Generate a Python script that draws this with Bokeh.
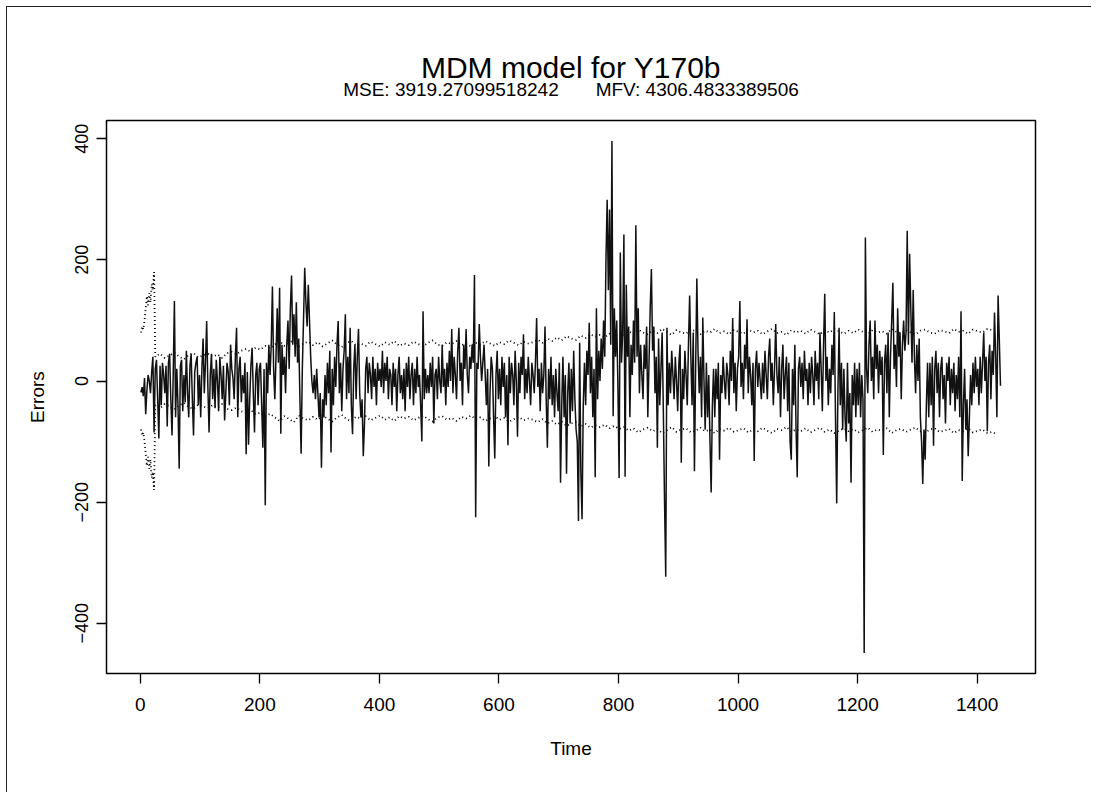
from bokeh.plotting import figure
from bokeh.models import Range1d, FixedTicker, Title
from bokeh.embed import file_html
from bokeh.resources import INLINE

# ---- data (every 2nd time step) ----
errors = [
    -19, -10, -25, 5, -55, -15, 10, 0, -20, 15, 40, -85, 20, 35, -30, -95, 25, -40, 30, 10,
    -20, 25, -75, 30, 45, -30, -90, 10, 132, -60, 20, -40, -145, 25, 35, -50, 10, -35, 50, -20,
    -60, 25, 45, -30, -90, 15, 30, 40, -40, 10, -60, 20, 70, -20, 30, 99, -10, -85, 10, 45,
    -30, 20, -45, 35, 0, -50, 40, 10, -30, 25, -65, -20, 30, 15, -40, 60, 20, 5, -30, 40,
    88, -60, 20, 40, -35, 10, -20, 30, -121, 15, -105, -30, 25, 55, -20, -85, 10, 30, -40, 20,
    30, -40, -110, 20, -205, 30, -20, 60, 10, 60, 156, 20, -30, 40, 120, 30, 154, -87, 60, 10,
    40, -20, 60, 100, 20, 120, 174, 60, 110, 40, 130, 30, 70, -30, -120, 20, 100, 187, 130, 90,
    159, 100, 40, 0, -20, 10, -30, 20, -20, -60, -20, -143, -30, -60, 10, -40, 30, -20, 50, -118,
    20, -40, 40, -10, 60, 99, -20, 30, -50, 20, 50, 110, -30, 40, -20, 88, -40, -88, 20, 60,
    -30, 40, 86, -20, -60, -30, -124, -70, 20, 40, -20, 30, 10, -30, 40, -10, 20, -40, 30, 0,
    20, -10, 50, -20, 30, 0, 40, -30, 20, 10, -40, 30, -10, 20, -50, 10, 40, -20, 10, -30,
    20, -50, 30, -10, 40, -30, 10, 30, -40, 20, -20, 40, -10, 10, -40, -100, 115, -30, 20, -20,
    10, -20, 30, -10, 40, -70, 10, 20, -30, 40, 0, -20, 60, -10, 20, -40, 30, -10, 50, 0,
    86, -20, 40, 10, -30, 50, 88, 0, 30, -40, 60, 20, 86, 10, -20, 40, 20, 60, 30, 175,
    -225, 30, 20, 94, 40, 0, 30, 60, 10, -40, 20, -141, -20, 40, 20, -60, -128, 10, 50, -30,
    20, -40, 40, -10, 30, -60, 10, -106, 40, -20, 30, 10, -40, 50, 0, -92, 30, -20, 40, 10,
    77, -30, 20, -20, 40, 0, -40, 30, 10, -20, 30, 104, -10, 20, -50, 30, -20, 10, 90, -30,
    -110, 20, -30, 40, -40, 10, -60, 20, -20, -50, 30, -168, -40, 40, -60, 10, -153, -20, 30, -70,
    20, -50, 50, -30, -80, -100, -231, 63, -150, -228, -40, 30, -40, 50, 10, 96, -20, 40, -60, 20,
    -159, 120, -30, 50, 0, 70, 20, 100, 40, 200, 299, 150, 283, 60, 396, -58, 120, 40, 100, -10,
    -160, 212, 30, 80, 242, -158, 159, 40, 90, -60, 60, 10, 100, 30, 257, 40, 120, -20, 60, 10,
    -30, 60, 20, 90, -60, 30, 120, 185, 50, 90, -20, 40, -110, 70, -40, 20, 80, -50, -200, -323,
    88, -40, 30, -20, 50, 10, -30, 40, 0, -50, 30, 60, -135, 20, -30, 50, 10, -40, 60, 141,
    40, -40, 80, -149, 20, 169, 50, -20, 40, -60, 105, 0, -80, 30, -60, 10, -100, -184, -40, 20,
    -60, 20, -30, 30, -130, 10, -20, 40, 0, -30, 30, 10, -40, 50, 0, 104, -20, 30, -50, 20,
    40, 132, -10, 30, -30, 60, 20, 102, -20, 40, 10, -40, 30, -132, 20, 50, -10, 30, 0, -30,
    30, -20, 50, 10, -30, 40, 70, 0, 30, -40, 20, 94, 10, -20, 40, -60, 20, 60, -30, 10,
    40, -50, 30, -100, -130, 20, -40, 60, -80, -159, 20, 40, -10, 30, -30, 50, 0, 20, -40, 30,
    -20, 40, 10, -40, 50, 0, 30, -30, 80, 20, -50, 60, 144, 0, 40, -40, 20, -20, 60, 10,
    114, -60, -202, -20, 88, -40, 30, -80, 20, -60, -100, 30, -70, -20, -168, 10, -40, 30, -60, 20,
    -40, 30, -60, 10, -30, -449, 237, 20, -20, 60, 100, 0, 40, -30, 100, 20, 60, -20, 50, 10,
    40, -122, 30, 60, -20, 80, -60, 40, 100, 162, 20, 60, -10, 120, 40, 80, -30, 60, 100, 50,
    80, 248, 60, 210, 120, 30, 150, 40, -20, 60, 0, 70, -60, -100, -170, -80, -130, -40, 30, -60,
    30, -40, 40, -107, 20, 50, -20, 30, -60, 20, 40, -30, 10, -70, 30, 0, 40, -40, 20, -20,
    30, -50, 10, -30, 40, -60, 115, -165, -40, 20, -80, -30, -124, -60, 10, -40, 30, -20, 40, -10,
    20, -40, 40, -20, 30, 80, 0, 40, -83, 30, 60, -30, 50, 10, 113, 40, -60, 141, 70, -8,
]
time = [1 + 2 * i for i in range(len(errors))]

bound_start_time = [1, 3, 5, 7, 9, 11, 13, 15, 17, 19, 21, 23]
bound_start = [80, 90, 85, 100, 120, 140, 125, 145, 130, 160, 150, 180]
bound_rest = [
    40, 45, 38, 42, 47, 40, 36, 43, 46, 39, 42, 45, 40, 44, 38, 46,
    48, 44, 50, 53, 48, 55, 52, 58, 54,
    60, 66, 58, 63, 68, 57, 62, 65, 59, 64, 57, 62, 67, 60, 56, 63, 66, 59, 62, 58,
    65, 61, 57, 64, 60, 66, 58, 62, 59, 65, 61, 57, 63, 67, 60, 58, 64, 61, 66, 59,
    62, 57, 63, 60, 66, 62, 58, 64, 61, 67, 63, 59, 65, 62,
    64, 68, 63, 70, 66, 72, 67, 74, 70, 68, 75, 71, 77, 73, 76, 72, 78, 74, 79,
    76, 82, 78, 85, 80, 77, 83, 79, 86, 81, 76, 84, 80, 78, 85, 82, 77, 83, 80, 86,
    79, 82, 77, 84, 81, 78, 85, 80, 83, 77, 82, 86, 79, 81, 76, 84, 80, 83, 78, 85,
    81, 77, 84, 80, 86, 82, 78, 83, 79, 85, 81, 77, 84, 80, 82, 78, 86, 81, 79, 84,
    80, 77, 83, 85, 80, 78, 84, 82, 79, 86, 81, 83, 78, 85, 82, 80, 86, 84, 88,
]
bound_time = bound_start_time + [25 + 8 * i for i in range(len(bound_rest))]
bound_half = bound_start + bound_rest
upper = bound_half
lower = [-b for b in bound_half]

x_ticks = [0, 200, 400, 600, 800, 1000, 1200, 1400]
y_ticks = [-400, -200, 0, 200, 400]
title_text = "MDM model for Y170b"
subtitle_text = "MSE: 3919.27099518242" + "\u00a0" * 6 + " MFV: 4306.4833389506"

FONT = "Liberation Sans"

p = figure(width=1085, height=786, output_backend="svg", toolbar_location=None,
           x_range=Range1d(-56.6, 1497.6), y_range=Range1d(-482.8, 430),
           min_border_left=99, min_border_right=57, min_border_top=113, min_border_bottom=120,
           x_axis_label="Time", y_axis_label="Errors")

p.styles = {"margin-left": "6px", "margin-top": "6px",
            "border-left": "1.5px solid #222", "border-top": "1.5px solid #222"}

# main title is p.title (outermost); subtitle is added next to the frame
p.title.text = title_text
p.title.align = "center"
p.title.text_font = FONT
p.title.text_font_size = "30px"
p.title.text_font_style = "normal"
p.title.text_color = "black"
p.title.standoff = -57
p.add_layout(Title(text=subtitle_text, align="center", text_font=FONT, text_font_size="19px",
                   text_font_style="normal", text_color="black", standoff=42), "above")

p.background_fill_color = "white"
p.border_fill_color = "white"
p.outline_line_color = "black"
p.outline_line_width = 1.5
p.outline_line_alpha = 1.0
p.xgrid.visible = False
p.ygrid.visible = False

for ax in (p.xaxis[0], p.yaxis[0]):
    ax.axis_line_color = None
    ax.major_tick_in = 0
    ax.major_tick_out = 10
    ax.major_tick_line_color = "black"
    ax.major_tick_line_width = 1.3
    ax.minor_tick_line_color = None
    ax.major_label_text_font = FONT
    ax.major_label_text_color = "black"
    ax.axis_label_text_font = FONT
    ax.axis_label_text_font_size = "19px"
    ax.axis_label_text_font_style = "normal"
    ax.axis_label_text_color = "black"

p.xaxis.major_label_text_font_size = "19px"
p.yaxis.major_label_text_font_size = "18px"
p.xaxis.ticker = FixedTicker(ticks=x_ticks)
p.yaxis.ticker = FixedTicker(ticks=y_ticks)
p.xaxis.major_label_standoff = 14
p.xaxis.axis_label_standoff = 24
p.yaxis.major_label_orientation = "vertical"
p.yaxis.major_label_standoff = 8
p.yaxis.axis_label_standoff = 25

p.line(bound_time, upper, line_color="black", line_width=1.8, line_dash="1 3")
p.line(bound_time, lower, line_color="black", line_width=1.8, line_dash="1 3")
p.line(time, errors, line_color="#111111", line_width=1.5)

open("out.html", "w").write(file_html(p, INLINE))
